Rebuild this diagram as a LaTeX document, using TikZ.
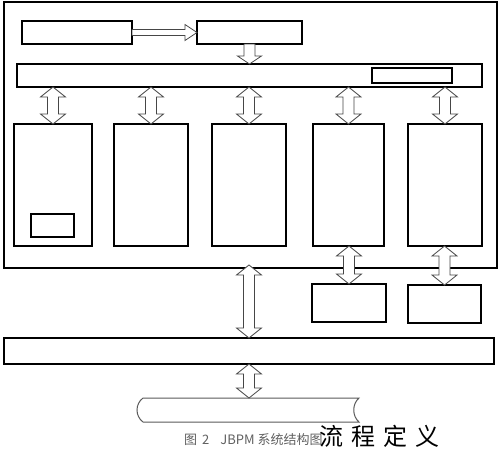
\documentclass[tikz,border=0pt]{standalone}
\usepackage{fontspec}
\newfontfamily\cjk{Noto Sans CJK SC}
\usetikzlibrary{calc}
\tikzset{
  box/.style={draw, line width=1.1pt, inner sep=0pt, outer sep=0pt, fill=white},
  blockarr/.style={draw=gray!55!black, line width=0.8pt, fill=white, line join=miter},
}
\newcommand\vdarr[2]{\draw[blockarr] (#1) -- ($(#1)+(12.5,10)$) -- ($(#1)+(5.5,10)$) -- ($(#2)+(5.5,-10)$) -- ($(#2)+(12.5,-10)$) -- (#2) -- ($(#2)+(-12.5,-10)$) -- ($(#2)+(-5.5,-10)$) -- ($(#1)+(-5.5,10)$) -- ($(#1)+(-12.5,10)$) -- cycle;}
\newcommand\vsarr[2]{\draw[blockarr] ($(#1)+(-5.5,0)$) -- ($(#1)+(5.5,0)$) -- ($(#2)+(5.5,-8)$) -- ($(#2)+(12,-8)$) -- (#2) -- ($(#2)+(-12,-8)$) -- ($(#2)+(-5.5,-8)$) -- cycle;}
\newcommand\hsarr[2]{\draw[blockarr] ($(#1)+(0,-3)$) -- ($(#2)+(-12,-3)$) -- ($(#2)+(-12,-8)$) -- (#2) -- ($(#2)+(-12,8)$) -- ($(#2)+(-12,3)$) -- ($(#1)+(0,3)$) -- cycle;}
\begin{document}
\begin{tikzpicture}[x=1pt, y=-1pt]
\useasboundingbox (0,0) rectangle (503,448);
% frame and boxes
\node[box, minimum width=493, minimum height=266] (frame) at (250.5,135) {};
\node[box, minimum width=110, minimum height=23] (A) at (77,32.5) {};
\node[box, minimum width=105, minimum height=23] (B) at (249.5,32.5) {};
\node[box, minimum width=465, minimum height=23] (bar) at (249.5,75.5) {};
\node[box, minimum width=80, minimum height=15] (barin) at (412,75.5) {};
\node[box, minimum width=78, minimum height=122] (col1) at (53,185) {};
\node[box, minimum width=74, minimum height=122] (col2) at (151,185) {};
\node[box, minimum width=74, minimum height=122] (col3) at (249,185) {};
\node[box, minimum width=71, minimum height=122] (col4) at (348.5,185) {};
\node[box, minimum width=74, minimum height=122] (col5) at (445,185) {};
\node[box, minimum width=43, minimum height=23] (colin) at (52.5,225.5) {};
\node[box, minimum width=74, minimum height=38] (C) at (349,303) {};
\node[box, minimum width=73, minimum height=38] (D) at (444.5,304) {};
\node[box, minimum width=490, minimum height=26] (bbar) at (249,351) {};
% tape / cylinder
\coordinate (cyl) at (249,398);
\draw[gray!70!black, line width=1pt] (143,398) -- (359,398)
  .. controls (352,404) and (352,416) .. (359,422) -- (143,422)
  .. controls (135,416) and (135,404) .. (143,398) -- cycle;
% arrows
\hsarr{A.east}{B.west}
\vsarr{B.south}{B.south |- bar.north}
\foreach \c in {col1,col2,col3,col4,col5}{
  \coordinate (t-\c) at (bar.south -| \c.north);
}
\vdarr{t-col1}{col1.north}
\vdarr{t-col2}{col2.north}
\vdarr{t-col3}{col3.north}
\vdarr{t-col4}{col4.north}
\vdarr{t-col5}{col5.north}
\coordinate (b-C) at (C.north |- col4.south);
\coordinate (b-D) at (D.north |- col5.south);
\vdarr{b-C}{C.north}
\vdarr{b-D}{D.north}
\coordinate (fb) at ($(bbar.north |- frame.south)+(0,-3)$);
\vdarr{fb}{bbar.north}
\coordinate (cb) at (cyl |- bbar.south);
\vdarr{cb}{cyl}
% captions
\node[font=\cjk\fontsize{13}{13}\selectfont, text=gray!75!black, anchor=west, inner sep=0pt] (cap) at (184,440) {图\hspace{5pt}2\hspace{11pt}JBPM\hspace{3pt}系统结构图};
\node[font=\cjk\fontsize{24}{24}\selectfont, anchor=west, inner sep=0pt] (lcdy) at (319,436) {流\hspace{8pt}程\hspace{8pt}定\hspace{8pt}义};
\end{tikzpicture}
\end{document}
